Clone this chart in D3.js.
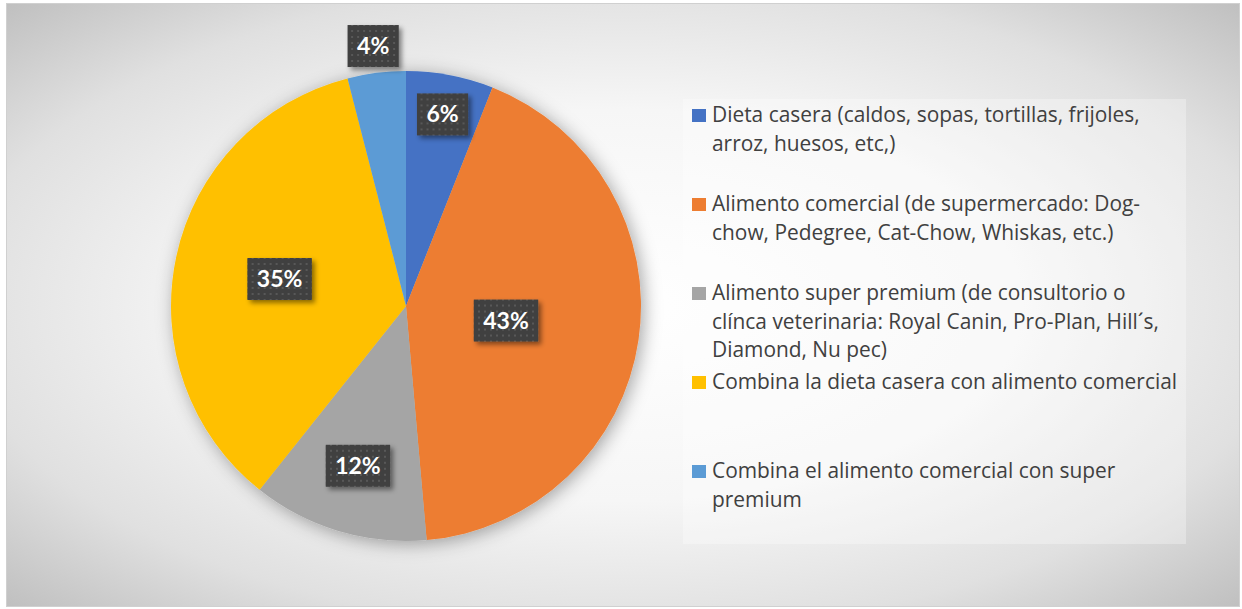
<!DOCTYPE html>
<html>
<head>
<meta charset="utf-8">
<style>
  body { margin: 0; background: #fff; }
  svg { display: block; }
  .legend text { font-family: "Open Sans", sans-serif; font-size: 18px; fill: #404040; }
  .lbl text { font-family: Lato, sans-serif; font-weight: 700; font-size: 23px; fill: #fff; }
</style>
</head>
<body>
<svg width="1242" height="609"></svg>
<script src="https://d3js.org/d3.v7.min.js"></script>
<script>

// slice values (% of answers), clockwise from 12 o'clock
var categories = [
  "Dieta casera (caldos, sopas, tortillas, frijoles, arroz, huesos, etc,)",
  "Alimento comercial (de supermercado: Dog- chow, Pedegree, Cat-Chow, Whiskas, etc.)",
  "Alimento super premium (de consultorio o clínca veterinaria: Royal Canin, Pro-Plan, Hill´s, Diamond, Nu pec)",
  "Combina la dieta casera con alimento comercial",
  "Combina el alimento comercial con super premium"
];
var values = [6.0, 42.6, 12.1, 35.3, 4.0];

// legend text, wrapped like the original
var legendLines = [
  ["Dieta casera (caldos, sopas, tortillas, frijoles,", "arroz, huesos, etc,)"],
  ["Alimento comercial (de supermercado: Dog-", "chow, Pedegree, Cat-Chow, Whiskas, etc.)"],
  ["Alimento super premium (de consultorio o", "clínca veterinaria: Royal Canin, Pro-Plan, Hill´s,", "Diamond, Nu pec)"],
  ["Combina la dieta casera con alimento comercial"],
  ["Combina el alimento comercial con super", "premium"]
];

var colors = ["#4472C4", "#ED7D31", "#A5A5A5", "#FFC000", "#5B9BD5"];
// how far out each data label sits (fraction of radius), excel "best fit"
var labelDist = [0.83, 0.43, 0.71, 0.55, 1.115];

var W = 1242, H = 609;
var svg = d3.select("svg");
var defs = svg.append("defs");

var bg = defs.append("radialGradient").attr("id", "bg")
  .attr("cx", "50%").attr("cy", "50%").attr("r", "72%");
bg.append("stop").attr("offset", "0").attr("stop-color", "#ffffff");
bg.append("stop").attr("offset", "0.45").attr("stop-color", "#f6f6f6");
bg.append("stop").attr("offset", "0.75").attr("stop-color", "#e0e0e0");
bg.append("stop").attr("offset", "1").attr("stop-color", "#bdbdbd");

var pat = defs.append("pattern").attr("id", "dots")
  .attr("patternUnits", "userSpaceOnUse").attr("width", 6).attr("height", 6);
pat.append("rect").attr("width", 6).attr("height", 6).attr("fill", "#3f3f3f");
pat.append("rect").attr("x", 2).attr("y", 2).attr("width", 2).attr("height", 2).attr("fill", "#595959");

var sh = defs.append("filter").attr("id", "pieShadow")
  .attr("x", "-20%").attr("y", "-20%").attr("width", "140%").attr("height", "140%");
sh.append("feDropShadow").attr("dx", 3).attr("dy", 3).attr("stdDeviation", 9)
  .attr("flood-color", "#000").attr("flood-opacity", 0.35);

var sh2 = defs.append("filter").attr("id", "boxShadow")
  .attr("x", "-30%").attr("y", "-30%").attr("width", "160%").attr("height", "160%");
sh2.append("feDropShadow").attr("dx", 3).attr("dy", 3).attr("stdDeviation", 2.5)
  .attr("flood-color", "#000").attr("flood-opacity", 0.45);

// chart area
svg.append("rect")
  .attr("x", 6.5).attr("y", 3.5).attr("width", W - 9).attr("height", H - 6)
  .attr("fill", "url(#bg)").attr("stroke", "#d0d0d0");

// pie
var cx = 406, cy = 306, R = 235;
var pie = d3.pie().sort(null).value(function(d) { return d; });
var arcs = pie(values);
var arc = d3.arc().innerRadius(0).outerRadius(R);

var g = svg.append("g").attr("transform", "translate(" + cx + "," + cy + ")");
g.append("g").attr("filter", "url(#pieShadow)")
  .selectAll("path")
  .data(arcs)
  .enter().append("path")
    .attr("d", arc)
    .attr("fill", function(d, i) { return colors[i]; });

// legend
var lx = 683, ly = 99, lw = 503, lh = 445;
var legend = svg.append("g").attr("class", "legend");
legend.append("rect")
  .attr("x", lx).attr("y", ly).attr("width", lw).attr("height", lh)
  .attr("fill", "#fff").attr("fill-opacity", 0.3);

var slot = d3.scaleBand().domain(d3.range(categories.length)).range([ly, ly + lh]);

var item = legend.selectAll(".item")
  .data(categories)
  .enter().append("g")
    .attr("class", "item")
    .attr("transform", function(d, i) { return "translate(" + lx + "," + slot(i) + ")"; });

item.append("rect")
  .attr("x", 9).attr("y", 10).attr("width", 14).attr("height", 13)
  .attr("fill", function(d, i) { return colors[i]; });

var txt = item.append("text")
  .attr("x", 29).attr("y", 23);
txt.selectAll("tspan")
  .data(function(d, i) { return legendLines[i]; })
  .enter().append("tspan")
    .attr("x", 29)
    .attr("dy", function(d, j) { return j ? 28.6 : 0; })
    .text(function(d) { return d; });

// fit font so the first line is as wide as in the original (~428px)
var w0 = txt.node().querySelector("tspan").getComputedTextLength();
legend.selectAll("text").style("font-size", (18 * 428 / w0) + "px");

// data labels
var lbl = svg.append("g").attr("class", "lbl")
  .selectAll("g")
  .data(arcs)
  .enter().append("g")
    .attr("transform", function(d, i) {
      var a = (d.startAngle + d.endAngle) / 2, r = R * labelDist[i];
      return "translate(" + (cx + Math.sin(a) * r) + "," + (cy - Math.cos(a) * r) + ")";
    });

lbl.append("text")
  .attr("text-anchor", "middle")
  .attr("dy", "0.35em")
  .text(function(d) { return Math.round(d.value) + "%"; });

lbl.each(function() {
  var t = d3.select(this).select("text");
  var w = t.node().getComputedTextLength() + 19;
  d3.select(this).insert("rect", "text")
    .attr("x", -w / 2).attr("y", -21).attr("width", w).attr("height", 42)
    .attr("fill", "url(#dots)")
    .attr("filter", "url(#boxShadow)");
});

</script>
</body>
</html>
